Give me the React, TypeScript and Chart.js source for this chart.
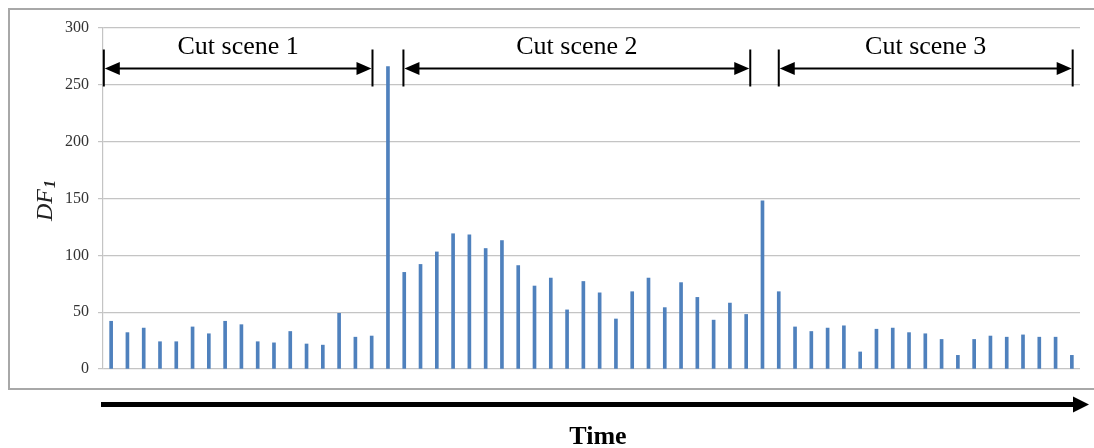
import React, { useEffect, useRef } from "react";
import { Chart, registerables } from "chart.js";

Chart.register(...registerables);

// DF1 values per frame
const cutScene1Values = [42, 32, 36, 24, 24, 37, 31, 42, 39, 24, 23, 33, 22, 21, 49, 28, 29];
const cut1BoundaryValues = [266];
const cutScene2Values = [85, 92, 103, 119, 118, 106, 113, 91, 73, 80, 52, 77, 67, 44, 68, 80, 54, 76, 63, 43, 58, 48];
const cut2BoundaryValues = [148];
const cutScene3Values = [68, 37, 33, 36, 38, 15, 35, 36, 32, 31, 26, 12, 26, 29, 28, 30, 28, 28, 12];

const yTickValues = [0, 50, 100, 150, 200, 250, 300];

// Scene annotations (in frame-index units of the category axis)
const sceneLabels = ["Cut scene 1", "Cut scene 2", "Cut scene 3"];
const sceneStartFrame = [-0.45, 17.95, 41];
const sceneEndFrame = [16.05, 39.25, 59.05];
const sceneArrowValue = 265;

const yAxisTitle = "DF";
const yAxisTitleSub = "1";
const timeLabel = "Time";

const allValues = [
  ...cutScene1Values,
  ...cut1BoundaryValues,
  ...cutScene2Values,
  ...cut2BoundaryValues,
  ...cutScene3Values,
];
const frameLabels = allValues.map((_, i) => String(i + 1));

const SERIF = "'Liberation Serif', 'Times New Roman', serif";

function drawArrowHead(ctx: CanvasRenderingContext2D, tipX: number, y: number, dir: number, len: number, half: number) {
  ctx.beginPath();
  ctx.moveTo(tipX, y);
  ctx.lineTo(tipX - dir * len, y - half);
  ctx.lineTo(tipX - dir * len, y + half);
  ctx.closePath();
  ctx.fill();
}

const decorPlugin = {
  id: "decor",
  beforeDraw(chart: any) {
    const ctx: CanvasRenderingContext2D = chart.ctx;
    ctx.save();
    ctx.fillStyle = "#ffffff";
    ctx.fillRect(0, 0, chart.width, chart.height);
    // outer frame
    ctx.strokeStyle = "#a8a8a8";
    ctx.lineWidth = 2;
    ctx.beginPath();
    ctx.moveTo(1100, 9);
    ctx.lineTo(9, 9);
    ctx.lineTo(9, 389);
    ctx.lineTo(1100, 389);
    ctx.stroke();
    ctx.restore();
  },
  afterDraw(chart: any) {
    const ctx: CanvasRenderingContext2D = chart.ctx;
    const xs = chart.scales.x;
    const ys = chart.scales.y;
    ctx.save();
    ctx.fillStyle = "#000";
    ctx.strokeStyle = "#000";

    // scene arrows
    const ay = Math.round(ys.getPixelForValue(sceneArrowValue)) + 0.5;
    sceneLabels.forEach((label, i) => {
      const x1 = xs.getPixelForValue(sceneStartFrame[i]);
      const x2 = xs.getPixelForValue(sceneEndFrame[i]);
      ctx.lineWidth = 2;
      ctx.beginPath();
      ctx.moveTo(x1, ay - 19);
      ctx.lineTo(x1, ay + 18);
      ctx.moveTo(x2, ay - 19);
      ctx.lineTo(x2, ay + 18);
      ctx.moveTo(x1 + 10, ay);
      ctx.lineTo(x2 - 10, ay);
      ctx.stroke();
      drawArrowHead(ctx, x1 + 1, ay, -1, 15, 6.5);
      drawArrowHead(ctx, x2 - 1, ay, 1, 15, 6.5);
      ctx.font = `26px ${SERIF}`;
      ctx.textAlign = "center";
      ctx.textBaseline = "alphabetic";
      ctx.fillText(label, (x1 + x2) / 2, ay - 15);
    });

    // y axis title (rotated, italic, with subscript)
    ctx.save();
    ctx.translate(52, 201);
    ctx.rotate(-Math.PI / 2);
    ctx.font = `italic 24px ${SERIF}`;
    const w1 = ctx.measureText(yAxisTitle).width;
    ctx.font = `italic 16px ${SERIF}`;
    const w2 = ctx.measureText(yAxisTitleSub).width;
    const start = -(w1 + w2) / 2;
    ctx.textAlign = "left";
    ctx.textBaseline = "alphabetic";
    ctx.fillStyle = "#222";
    ctx.font = `italic 24px ${SERIF}`;
    ctx.fillText(yAxisTitle, start, 0);
    ctx.font = `italic bold 16px ${SERIF}`;
    ctx.fillText(yAxisTitleSub, start + w1 + 1, 3);
    ctx.restore();

    // time arrow
    ctx.fillStyle = "#000";
    ctx.fillRect(101, 402, 1074 - 101, 5);
    drawArrowHead(ctx, 1089, 404.5, 1, 16, 8);

    ctx.font = `bold 26px ${SERIF}`;
    ctx.textAlign = "center";
    ctx.textBaseline = "alphabetic";
    ctx.fillText(timeLabel, 598, 444);

    ctx.restore();
  },
};

export default function App() {
  const canvasRef = useRef<HTMLCanvasElement | null>(null);

  useEffect(() => {
    if (!canvasRef.current) return;
    const chart = new Chart(canvasRef.current, {
      type: "bar",
      data: {
        labels: frameLabels,
        datasets: [
          {
            label: "DF1",
            data: allValues,
            backgroundColor: "#4F81BD",
            barThickness: 3,
          },
        ],
      },
      options: {
        responsive: false,
        animation: false,
        devicePixelRatio: 1,
        layout: { padding: { left: 0, right: 14, top: 28, bottom: 79 } },
        plugins: {
          legend: { display: false },
          tooltip: { enabled: false },
          title: { display: false },
        },
        scales: {
          x: {
            display: false,
            offset: true,
            grid: { display: false },
          },
          y: {
            min: 0,
            max: 300,
            afterFit(scale: any) {
              scale.width = 103;
            },
            afterBuildTicks(scale: any) {
              scale.ticks = yTickValues.map((v) => ({ value: v }));
            },
            ticks: {
              padding: 9,
              color: "#333",
              font: { family: SERIF, size: 16 },
            },
            grid: {
              color: "#c4c4c4",
              lineWidth: 1.2,
              tickLength: 5,
              drawTicks: true,
            },
            border: { display: true, color: "#c4c4c4", width: 1.2 },
          },
        },
      },
      plugins: [decorPlugin],
    });
    return () => chart.destroy();
  }, []);

  return (
    <div style={{ position: "fixed", left: 0, top: 0, width: 1094, height: 448, background: "#fff" }}>
      <canvas ref={canvasRef} width={1094} height={448} style={{ width: 1094, height: 448, display: "block" }} />
    </div>
  );
}
